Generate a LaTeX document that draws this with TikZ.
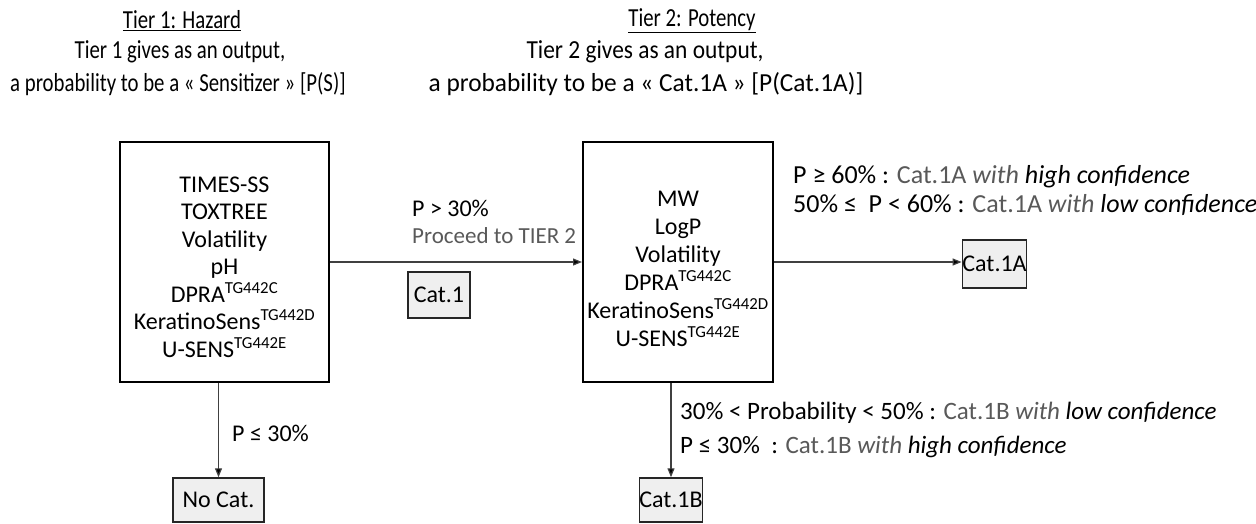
\documentclass[tikz,border=0pt]{standalone}
\usepackage{fontspec}
\setmainfont{Carlito}
\usetikzlibrary{arrows.meta}
\definecolor{txtgray}{HTML}{595959}
\definecolor{boxfill}{HTML}{EFEFEF}
\tikzset{
  hdr/.style={font=\fontsize{26}{32}\selectfont, inner sep=0pt},
  bigbox/.style={draw=black, line width=2pt, minimum width=209pt, minimum height=240pt, inner sep=0pt},
  boxtxt/.style={font=\fontsize{24}{27.5}\selectfont, align=center, inner sep=0pt},
  catbox/.style={draw=black!85, line width=1.5pt, fill=boxfill, font=\fontsize{24}{28}\selectfont, inner sep=0pt},
  lbl/.style={font=\fontsize{24}{28}\selectfont, inner sep=0pt, anchor=west, align=left},
  cond/.style={font=\fontsize{26}{28}\selectfont, inner sep=0pt, anchor=west, align=left},
  condb/.style={font=\fontsize{25}{28}\selectfont, inner sep=0pt, anchor=west, align=left},
  conn/.style={draw=black!75, line width=1.2pt, -{Triangle[length=9pt,width=7pt,fill=black]}},
}
\newcommand{\gr}[1]{\textcolor{txtgray}{#1}}
\newcommand{\tg}[1]{\textsuperscript{#1}}
\begin{document}
\begin{tikzpicture}[x=1pt,y=-1pt]
\useasboundingbox (0,0) rectangle (1256,523);
\clip (0,0) rectangle (1256,523);
% headers
\node[hdr] (t1) at (182,21) {\scalebox{0.8}[1]{\underline{Tier 1: Hazard}}};
\node[hdr] (d1a) at (180,52) {\scalebox{0.8}[1]{Tier 1 gives as an output,}};
\node[hdr] (d1b) at (178,84) {\scalebox{0.8}[1]{a probability to be a « Sensitizer » [P(S)]}};
\node[hdr] (t2) at (692,21) {\scalebox{0.8}[1]{\underline{Tier 2: Potency}}};
\node[hdr] (d2a) at (645,52) {\scalebox{0.9}[1]{Tier 2 gives as an output,}};
\node[hdr] (d2b) at (646,84) {\scalebox{0.975}[1]{a probability to be a « Cat.1A » [P(Cat.1A)]}};
% main boxes
\node[bigbox] (b1) at (224.5,262) {};
\node[boxtxt] (b1t) at (224.5,267) {TIMES-SS\\TOXTREE\\Volatility\\pH\\DPRA\tg{TG442C}\\KeratinoSens\tg{TG442D}\\U-SENS\tg{TG442E}};
\node[bigbox, minimum width=190pt] (b2) at (678,262) {};
\node[boxtxt, font=\fontsize{24}{28}\selectfont] (b2t) at (678,269) {MW\\LogP\\Volatility\\DPRA\tg{TG442C}\\KeratinoSens\tg{TG442D}\\U-SENS\tg{TG442E}};
% category boxes
\node[catbox, minimum width=62pt, minimum height=46pt] (c1) at (439,295) {Cat.1};
\node[catbox, minimum width=63pt, minimum height=48pt] (c1a) at (994.5,264) {Cat.1A};
\node[catbox, minimum width=91pt, minimum height=44pt] (nc) at (218.5,500) {No Cat.};
\node[catbox, minimum width=62pt, minimum height=44pt] (c1b) at (671,500) {Cat.1B};
% connectors
\draw[conn] (b1.east |- 0,262) -- (b2.west |- 0,262);
\draw[conn] (b2.east |- 0,262) -- (c1a.west |- 0,262);
\draw[conn] (nc.north |- b1.south) -- (nc.north);
\draw[conn] (c1b.north |- b2.south) -- (c1b.north);
% labels
\node[lbl] (l1) at (412,208) {P > 30\%};
\node[lbl, font=\fontsize{23}{28}\selectfont] (l2) at (412,236) {\gr{Proceed to TIER 2}};
\node[cond] (l3) at (793,177) {P ≥ 60\% : \gr{Cat.1A \textit{with}} \textit{high confidence}};
\node[cond] (l4) at (793,205) {50\% ≤ \ P < 60\% : \gr{Cat.1A \textit{with}} \textit{low confidence}};
\node[lbl] (l5) at (232,433) {P ≤ 30\%};
\node[condb] (l6) at (680,413) {30\% < Probability < 50\% : \gr{Cat.1B \textit{with}} \textit{low confidence}};
\node[condb] (l7) at (680,447) {P ≤ 30\% \ : \gr{Cat.1B \textit{with}} \textit{high confidence}};
\end{tikzpicture}
\end{document}
